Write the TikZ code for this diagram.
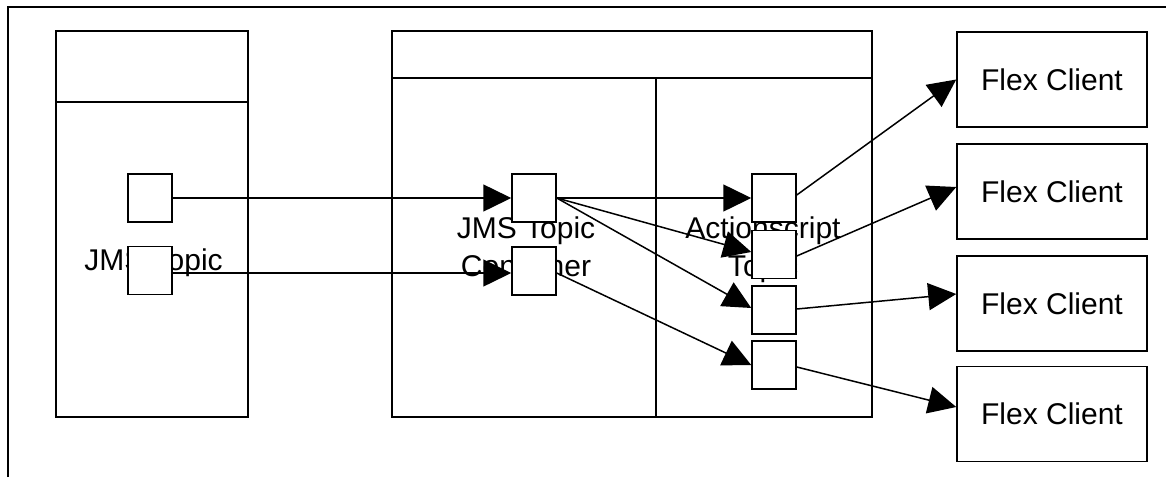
\documentclass[tikz,border=0pt]{standalone}
\usepackage{fontspec}
\setmainfont{Liberation Sans}
\usetikzlibrary{arrows.meta}
\begin{document}
\begin{tikzpicture}[x=1pt,y=-1pt,line width=1.5pt,
  sbox/.style={draw,inner sep=0pt,minimum width=44pt,minimum height=48pt,fill=white},
  fbox/.style={draw,inner sep=0pt,minimum width=190pt,minimum height=95pt,font=\fontsize{30}{36}\selectfont},
  lbl/.style={font=\fontsize{30}{38}\selectfont,align=center,inner sep=0pt},
  arr/.style={-{Triangle[length=28pt,width=27pt]}}]
\useasboundingbox (0,0) rectangle (1166,477);
% outer frame
\draw (8,477) -- (8,7) -- (1166,7);
% left container
\draw (56,31) rectangle (248,417);
\draw (56,102) -- (248,102);
% middle container
\draw (392,31) rectangle (872,417);
\draw (392,78) -- (872,78);
\draw (656,78) -- (656,417);
% labels
\node[lbl,anchor=base] (tl1) at (153.5,270) {JMS Topic};
\node[lbl,anchor=base] (tl2) at (526,276) {JMS Topic\\Container};
\node[lbl,anchor=base] (tl3) at (763,276) {Actionscript\\Topic};
% small boxes
\node[sbox] (a1) at (150,198) {};
\node[sbox] (a2) at (150,270.5) {};
\node[sbox] (b1) at (534,198) {};
\node[sbox] (b2) at (534,271) {};
\node[sbox] (c1) at (774,198) {};
\node[sbox] (c2) at (774,254.5) {};
\node[sbox] (c3) at (774,310) {};
\node[sbox] (c4) at (774,365) {};
% flex clients
\node[fbox] (f1) at (1052,79.5) {Flex Client\hspace{14pt}};
\node[fbox] (f2) at (1052,191.5) {Flex Client\hspace{14pt}};
\node[fbox] (f3) at (1052,303.5) {Flex Client\hspace{14pt}};
\node[fbox] (f4) at (1052,414) {Flex Client\hspace{14pt}};
% connectors
\draw[arr] (a1.east) -- (b1.west);
\draw[arr] ([yshift=-2.5pt]a2.east) -- ([yshift=-2pt]b2.west);
\draw[arr] (b1.east) -- (c1.west);
\draw[arr] (b1.east) -- ([yshift=2.5pt]c2.west);
\draw[arr] (b1.east) -- ([yshift=2pt]c3.west);
\draw[arr] ([yshift=-2pt]b2.east) -- (c4.west);
\draw[arr] ([yshift=3pt]c1.east) -- (f1.west);
\draw[arr] ([yshift=-1.5pt]c2.east) -- ([yshift=4.5pt]f2.west);
\draw[arr] ([yshift=1pt]c3.east) -- ([yshift=9.5pt]f3.west);
\draw[arr] ([yshift=-2pt]c4.east) -- ([yshift=7pt]f4.west);
\end{tikzpicture}
\end{document}
